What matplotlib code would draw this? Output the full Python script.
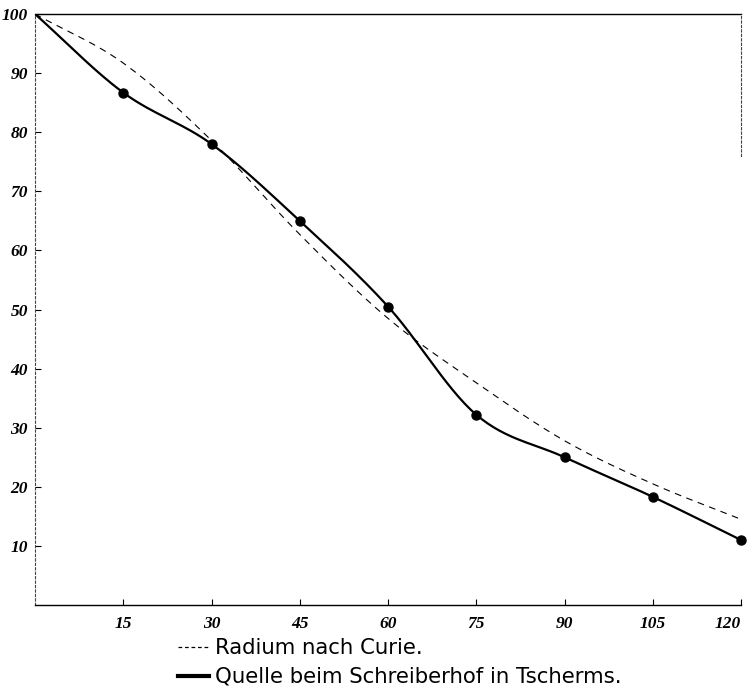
import matplotlib
matplotlib.use("Agg")
import matplotlib.pyplot as plt
from matplotlib.lines import Line2D
import numpy as np

# values
hours = [0, 15, 30, 45, 60, 75, 90, 105, 120]
radium_curie = [100, 91.7, 78.6, 62.7, 48.5, 37.6, 27.8, 20.5, 14.5]
quelle_tscherms = [100, 86.7, 78.0, 65.0, 50.5, 32.2, 25.0, 18.3, 11.0]

x_ticks = [15, 30, 45, 60, 75, 90, 105, 120]
y_ticks = [10, 20, 30, 40, 50, 60, 70, 80, 90, 100]


def smooth(x, y, n=30):
    # Catmull-Rom spline through the given points, for drawing only
    x = np.asarray(x, float)
    y = np.asarray(y, float)
    px = np.concatenate([[2 * x[0] - x[1]], x, [2 * x[-1] - x[-2]]])
    py = np.concatenate([[2 * y[0] - y[1]], y, [2 * y[-1] - y[-2]]])
    t = np.linspace(0, 1, n, endpoint=False)
    xs, ys = [], []
    for i in range(1, len(px) - 2):
        for p, out in ((px, xs), (py, ys)):
            p0, p1, p2, p3 = p[i - 1], p[i], p[i + 1], p[i + 2]
            out.append(0.5 * ((2 * p1) + (-p0 + p2) * t
                              + (2 * p0 - 5 * p1 + 4 * p2 - p3) * t ** 2
                              + (-p0 + 3 * p1 - 3 * p2 + p3) * t ** 3))
    xs.append([x[-1]])
    ys.append([y[-1]])
    return np.concatenate(xs), np.concatenate(ys)


fig = plt.figure(figsize=(7.52, 6.88), dpi=100)
ax = fig.add_axes([35 / 752, 83 / 688, 706 / 752, 591 / 688])

dx, dy = smooth(hours, radium_curie)
ax.plot(dx, dy, color="black", linewidth=0.8, dashes=(6, 5))

sx, sy = smooth(hours, quelle_tscherms)
ax.plot(sx, sy, color="black", linewidth=1.6)
ax.plot(hours[1:], quelle_tscherms[1:], "o", color="black", markersize=6.5,
        clip_on=False)

ax.set_xlim(0, 120)
ax.set_ylim(0, 100)
ax.set_xticks(x_ticks)
ax.set_yticks(y_ticks)

tick_font = dict(family="Liberation Serif", weight="bold", style="italic",
                 size=12.5)
ax.set_xticklabels([str(v) for v in x_ticks], **tick_font)
ax.set_yticklabels([str(v) for v in y_ticks], **tick_font)
ax.tick_params(direction="in", length=4, width=0.8)
ax.tick_params(axis="y", pad=5)
ax.tick_params(axis="x", pad=8)
ax.get_xticklabels()[-1].set_horizontalalignment("right")

for side in ("top", "bottom"):
    ax.spines[side].set_linewidth(1.0)
for side in ("left", "right"):
    ax.spines[side].set_linewidth(0.8)
    ax.spines[side].set_linestyle((0, (2, 2)))
    ax.spines[side].set_color("#444444")
ax.spines["right"].set_bounds(76, 100)

handles = [
    Line2D([], [], color="black", linewidth=0.9, dashes=(3, 2.2)),
    Line2D([], [], color="black", linewidth=3.0),
]
labels = ["Radium nach Curie.", "Quelle beim Schreiberhof in Tscherms."]
fig.legend(handles, labels, loc="upper left", bbox_to_anchor=(0.237, 0.072),
           frameon=False, handlelength=1.45, handletextpad=0.3,
           labelspacing=0.4, borderpad=0, borderaxespad=0,
           prop=dict(family="DejaVu Sans", size=15.3))

fig.savefig("out.png", dpi=100)
